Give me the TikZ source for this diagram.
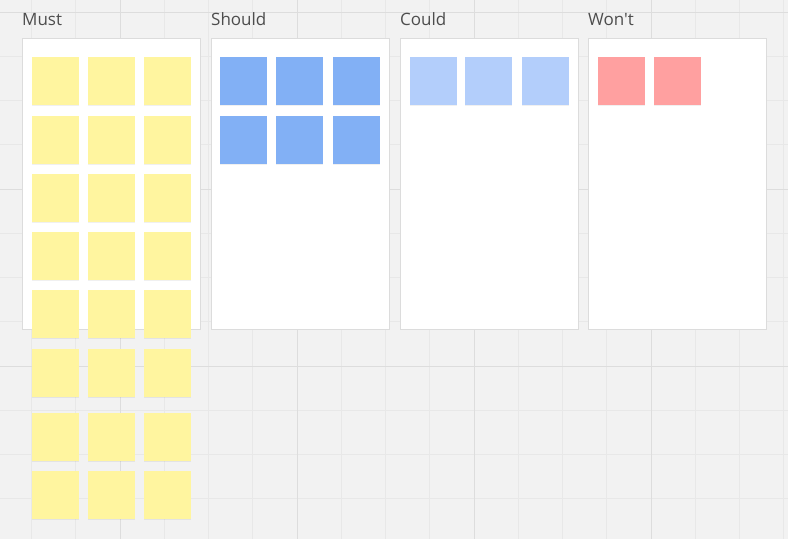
\documentclass[tikz,border=0pt]{standalone}
\usepackage{fontspec}
\setmainfont{Open Sans}[Ligatures=TeXOff]
\usepackage{xcolor}
\usetikzlibrary{shadows}

\definecolor{boardbg}{HTML}{F2F2F2}
\definecolor{gridminor}{HTML}{E8E8E8}
\definecolor{gridmajor}{HTML}{DDDDDD}
\definecolor{framegray}{HTML}{DCDCDC}
\definecolor{titlegray}{HTML}{4D4D4D}
\definecolor{noteyellow}{HTML}{FFF59F}
\definecolor{noteblue}{HTML}{82B0F5}
\definecolor{notelightblue}{HTML}{B3CEFB}
\definecolor{notered}{HTML}{FFA0A0}

\tikzset{
  colpanel/.style={draw=framegray, fill=white, line width=0.8pt, inner sep=0pt,
    minimum width=178pt, minimum height=291pt, anchor=north west},
  coltitle/.style={anchor=base west, inner sep=0pt, text=titlegray,
    font=\fontsize{17}{20}\selectfont},
  sticky/.style={inner sep=0pt, minimum width=46.5pt, minimum height=48pt, anchor=north west,
    general shadow={fill=black, opacity=0.06, shadow yshift=-1.2pt}}
}

\begin{document}
\begin{tikzpicture}[x=1pt, y=-1pt]
    \useasboundingbox (0,0) rectangle (788,539);
    \fill[boardbg] (0,0) rectangle (788,539);

    % board grid
    \foreach \k in {0,...,17}
    \draw[gridminor, line width=0.8pt] ({31.5+44.25*\k},0) -- ({31.5+44.25*\k},539);
    \foreach \k in {0,...,11}
    \draw[gridminor, line width=0.8pt] (0,{12+44.25*\k}) -- (788,{12+44.25*\k});
    \foreach \k in {2,6,10,14}
    \draw[gridmajor, line width=1pt] ({31.5+44.25*\k},0) -- ({31.5+44.25*\k},539);
    \foreach \k in {0,4,8}
    \draw[gridmajor, line width=1pt] (0,{12+44.25*\k}) -- (788,{12+44.25*\k});

    % columns
    \node[colpanel] (must) at (22,38) {};
    \node[colpanel] (should) at (211,38) {};
    \node[colpanel] (could) at (400,38) {};
    \node[colpanel] (wont) at (588,38) {};

    \node[coltitle] (must-title) at (22,25.5) {Must};
    \node[coltitle] (should-title) at (211,25.5) {Should};
    \node[coltitle] (could-title) at (400,25.5) {Could};
    \node[coltitle] (wont-title) at (588,25.5) {Won't};

    % sticky notes
    \foreach \y [count=\r] in {57,116,174,232,290,349,413,471}
    \foreach \x [count=\c] in {32,88,144}
    \node[sticky, fill=noteyellow] (must-\r-\c) at (\x,\y) {};

    \foreach \y [count=\r] in {57,116}
    \foreach \x [count=\c] in {220,276,333}
    \node[sticky, fill=noteblue] (should-\r-\c) at (\x,\y) {};

    \foreach \x [count=\c] in {410,465,522}
    \node[sticky, fill=notelightblue] (could-1-\c) at (\x,57) {};

    \foreach \x [count=\c] in {598,654}
    \node[sticky, fill=notered] (wont-1-\c) at (\x,57) {};
\end{tikzpicture}
\end{document}
